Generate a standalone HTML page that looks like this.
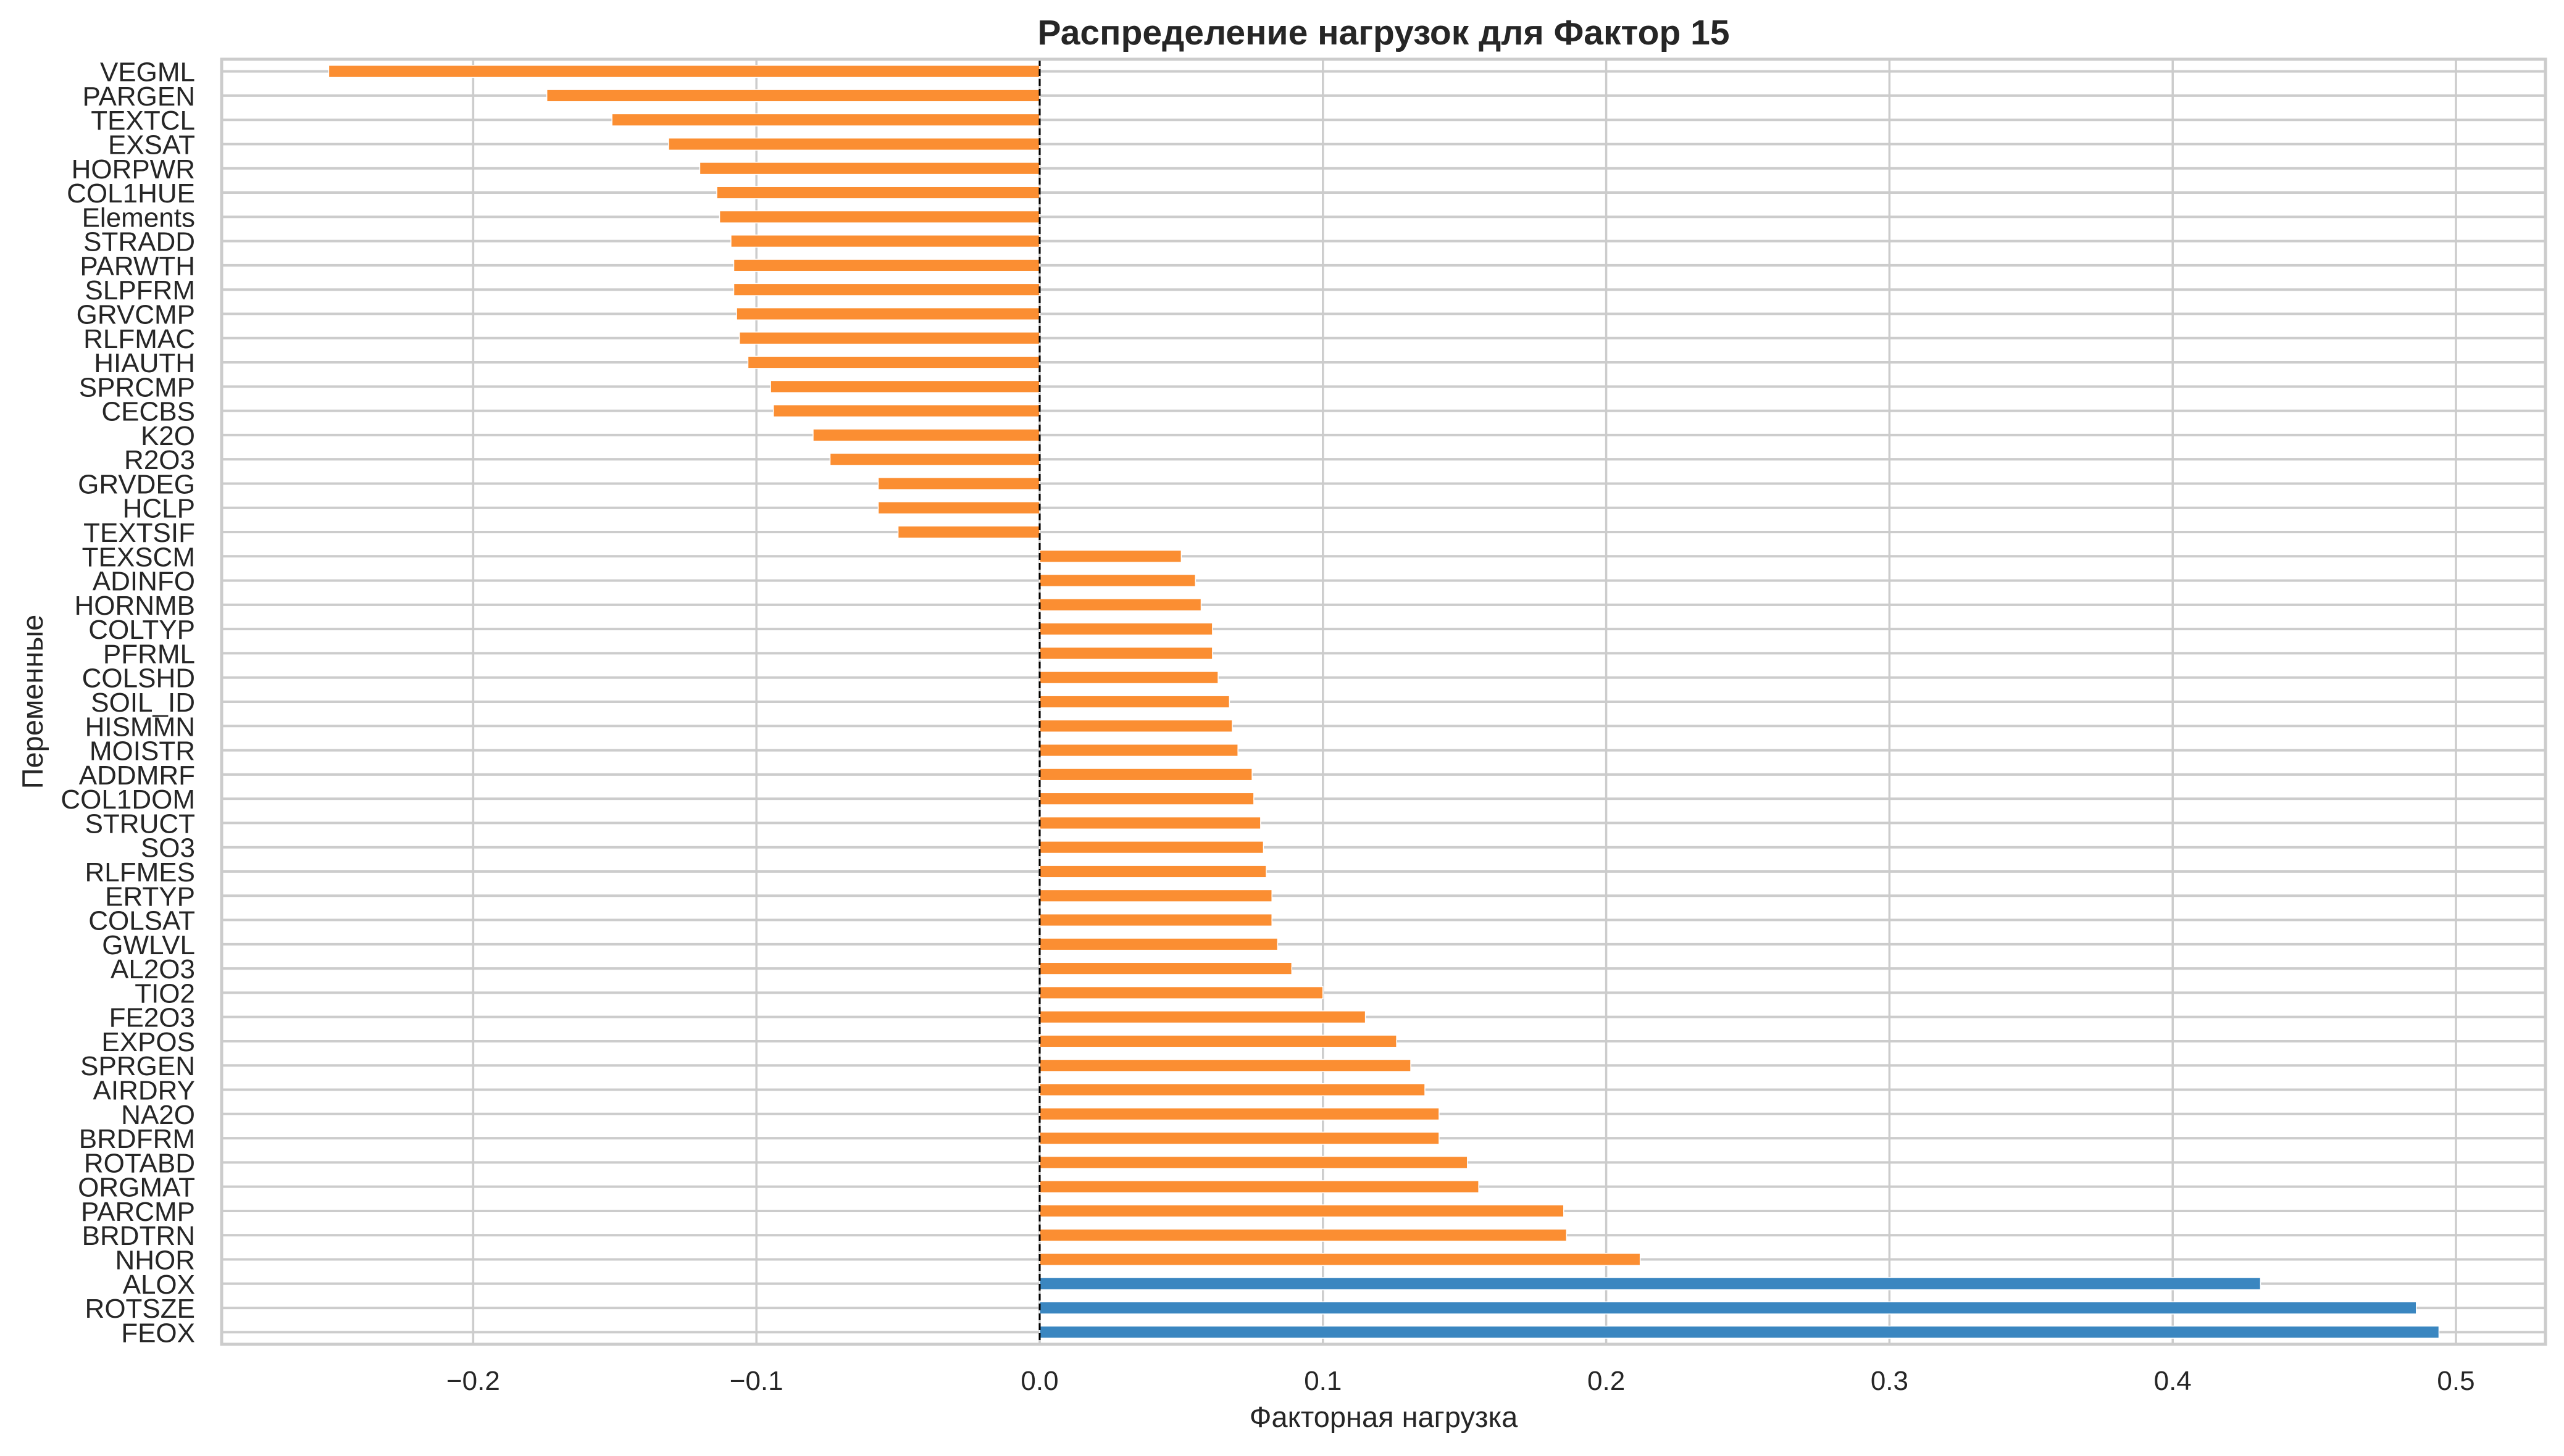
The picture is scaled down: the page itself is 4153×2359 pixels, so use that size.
<!DOCTYPE html>
<html><head><meta charset="utf-8"><style>
html,body{margin:0;padding:0;background:#fff;}
svg text{font-family:"Liberation Sans",Arial,sans-serif;fill:#262626;}
</style></head><body>
<svg id="chart" xmlns="http://www.w3.org/2000/svg" width="4153" height="2354" viewBox="0 0 4153 2354">
<rect x="0" y="0" width="4153" height="2354" fill="#fff"/>
<g id="grid"></g><g id="bars"></g><g id="axes"></g>
</svg>
<script>
const categories = ["VEGML","PARGEN","TEXTCL","EXSAT","HORPWR","COL1HUE","Elements","STRADD","PARWTH","SLPFRM","GRVCMP","RLFMAC","HIAUTH","SPRCMP","CECBS","K2O","R2O3","GRVDEG","HCLP","TEXTSIF","TEXSCM","ADINFO","HORNMB","COLTYP","PFRML","COLSHD","SOIL_ID","HISMMN","MOISTR","ADDMRF","COL1DOM","STRUCT","SO3","RLFMES","ERTYP","COLSAT","GWLVL","AL2O3","TIO2","FE2O3","EXPOS","SPRGEN","AIRDRY","NA2O","BRDFRM","ROTABD","ORGMAT","PARCMP","BRDTRN","NHOR","ALOX","ROTSZE","FEOX"];
const loadings = [-0.251,-0.174,-0.151,-0.131,-0.120,-0.114,-0.113,-0.109,-0.108,-0.108,-0.107,-0.106,-0.103,-0.095,-0.094,-0.080,-0.074,-0.057,-0.057,-0.050,0.050,0.055,0.057,0.061,0.061,0.063,0.067,0.068,0.070,0.075,0.0756,0.078,0.079,0.080,0.082,0.082,0.084,0.089,0.100,0.115,0.126,0.131,0.136,0.141,0.141,0.151,0.155,0.185,0.186,0.212,0.431,0.486,0.494];
const xTicks = [-0.2,-0.1,0.0,0.1,0.2,0.3,0.4,0.5];
const xTickLabels = ["\u22120.2","\u22120.1","0.0","0.1","0.2","0.3","0.4","0.5"];
const title = "Распределение нагрузок для Фактор 15";
const xTitle = "Факторная нагрузка";
const yTitle = "Переменные";

const NS="http://www.w3.org/2000/svg";
const L=359,R=4123,T=96,B=2178;
const x0=1684, pxPer=4588;
function xs(v){return x0+v*pxPer;}
const band=(B-T)/categories.length;
function yc(i){return T+band*(i+0.5);}
function mk(tag,attrs,parent){const e=document.createElementNS(NS,tag);for(const k in attrs)e.setAttribute(k,attrs[k]);parent.appendChild(e);return e;}
const grid=document.getElementById('grid'),bars=document.getElementById('bars'),axes=document.getElementById('axes');

xTicks.forEach((t,i)=>{
  const g=mk('line',{x1:xs(t),x2:xs(t),y1:T,y2:B,stroke:'#cccccc','stroke-width':3.5},grid);
  
  
  const tx=mk('text',{x:xs(t),y:2252,'text-anchor':'middle','font-size':44},axes);
  tx.textContent=xTickLabels[i];
  
  
});
categories.forEach((c,i)=>{
  const g=mk('line',{x1:L,x2:R,y1:yc(i),y2:yc(i),stroke:'#cccccc','stroke-width':4},grid);
  
  
  const v=loadings[i];
  const h=band*0.5;
  const x1=Math.min(xs(0),xs(v)),w=Math.abs(xs(v)-xs(0));
  const r=mk('rect',{x:x1,y:yc(i)-h/2,width:w,height:h,fill:Math.abs(v)>0.3?'#3a86c0':'#fb8e32',stroke:'#fff','stroke-width':1.5},bars);
  
  
  const tx=mk('text',{x:316,y:yc(i)+16,'text-anchor':'end','font-size':44},axes);
  tx.textContent=c;
  
  
});
const zl=mk('line',{x1:xs(0),x2:xs(0),y1:T,y2:B,stroke:'#000','stroke-width':3,'stroke-dasharray':'11,5'},axes);


const fr=mk('rect',{x:L,y:T,width:R-L,height:B-T,fill:'none',stroke:'#cccccc','stroke-width':5},axes);


const tt=mk('text',{x:(L+R)/2,y:72,'text-anchor':'middle','font-size':57,'font-weight':'bold'},axes);
tt.textContent=title;


const xt=mk('text',{x:(L+R)/2,y:2312,'text-anchor':'middle','font-size':47},axes);
xt.textContent=xTitle;


const yt=mk('text',{x:0,y:0,'text-anchor':'middle','font-size':47,transform:'translate(69,'+((T+B)/2)+') rotate(-90)'},axes);
yt.textContent=yTitle;


</script>
</body></html>
